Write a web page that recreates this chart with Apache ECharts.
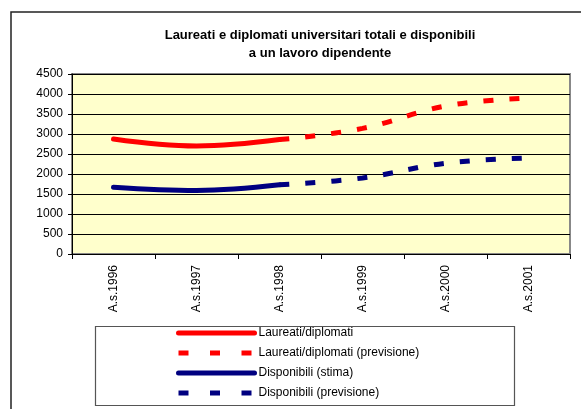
<!DOCTYPE html>
<html>
<head>
<meta charset="utf-8">
<script src="https://cdn.jsdelivr.net/npm/echarts@6/dist/echarts.min.js"></script>
<style>
  html, body { margin: 0; padding: 0; background: #fff; }
  #chart { width: 581px; height: 409px; }
</style>
</head>
<body>
<div id="chart"></div>
<script>
const years = ["A.s.1996", "A.s.1997", "A.s.1998", "A.s.1999", "A.s.2000", "A.s.2001"]
const yTicks = { min: 0, max: 4500, interval: 500 }

const laureati = [2875, 2700, 2860, null, null, null]
const laureatiPrev = [null, null, 2860, 3140, 3700, 3900]
const disponibili = [1670, 1590, 1730, null, null, null]
const disponibiliPrev = [null, null, 1730, 1900, 2270, 2400]

const font = "Liberation Sans, Arial, sans-serif"
const chart = echarts.init(document.getElementById("chart"))

function lineSeries(name, data, color, dashed) {
  return {
    name: name,
    type: "line",
    data: data,
    smooth: 0.4,
    symbol: "none",
    connectNulls: false,
    lineStyle: { color: color, width: 5, type: dashed ? [10, 16] : "solid", cap: dashed ? "butt" : "round" },
    itemStyle: { color: color }
  }
}

function legendItem(name, dashed) {
  return {
    name: name,
    itemStyle: { opacity: 0 },
    lineStyle: { width: 5, type: dashed ? [10, 21.5] : "solid", cap: dashed ? "butt" : "round" }
  }
}

chart.setOption({
  animation: false,
  textStyle: { fontFamily: font },
  title: {
    text: "Laureati e diplomati universitari totali e disponibili\na un lavoro dipendente",
    left: 315,
    textAlign: "center",
    top: 21,
    textStyle: { fontSize: 13, fontWeight: "bold", color: "#000", lineHeight: 18, fontFamily: font }
  },
  graphic: [
    { type: "rect", shape: { x: 11, y: 12, width: 700, height: 500 }, style: { fill: "none", stroke: "#222", lineWidth: 1.5 }, silent: true },
    { type: "rect", shape: { x: 95.5, y: 326.5, width: 419, height: 79 }, style: { fill: "#fff", stroke: "#555", lineWidth: 1.2 }, silent: true, z: -1 }
  ],
  grid: {
    left: 72, right: 11, top: 74, bottom: 155,
    show: true, backgroundColor: "#FFFFCC", borderColor: "#888", borderWidth: 2
  },
  legend: {
    orient: "vertical",
    left: 176,
    top: 327,
    padding: 0,
    itemWidth: 76,
    itemHeight: 10,
    itemGap: 8,
    textStyle: { fontSize: 12, color: "#000", fontFamily: font, padding: [0, 0, 0, -1] },
    data: [
      legendItem("Laureati/diplomati", false),
      legendItem("Laureati/diplomati (previsione)", true),
      legendItem("Disponibili (stima)", false),
      legendItem("Disponibili (previsione)", true)
    ]
  },
  xAxis: {
    type: "category",
    data: years,
    boundaryGap: true,
    axisLine: { lineStyle: { color: "#000", width: 1 } },
    axisTick: { show: true, length: 5, interval: 0, lineStyle: { color: "#000" } },
    axisLabel: { rotate: 90, fontSize: 12, color: "#000", margin: 11, interval: 0 },
    splitLine: { show: false }
  },
  yAxis: {
    type: "value",
    min: yTicks.min,
    max: yTicks.max,
    interval: yTicks.interval,
    axisLine: { show: true, lineStyle: { color: "#000", width: 1 } },
    axisTick: { show: true, length: 4, lineStyle: { color: "#000" } },
    axisLabel: { fontSize: 12, color: "#000", margin: 9, formatter: v => String(v) },
    splitLine: { lineStyle: { color: "#000", width: 1 } }
  },
  series: [
    lineSeries("Laureati/diplomati", laureati, "#FF0000", false),
    lineSeries("Laureati/diplomati (previsione)", laureatiPrev, "#FF0000", true),
    lineSeries("Disponibili (stima)", disponibili, "#000080", false),
    lineSeries("Disponibili (previsione)", disponibiliPrev, "#000080", true)
  ]
})
</script>
</body>
</html>
